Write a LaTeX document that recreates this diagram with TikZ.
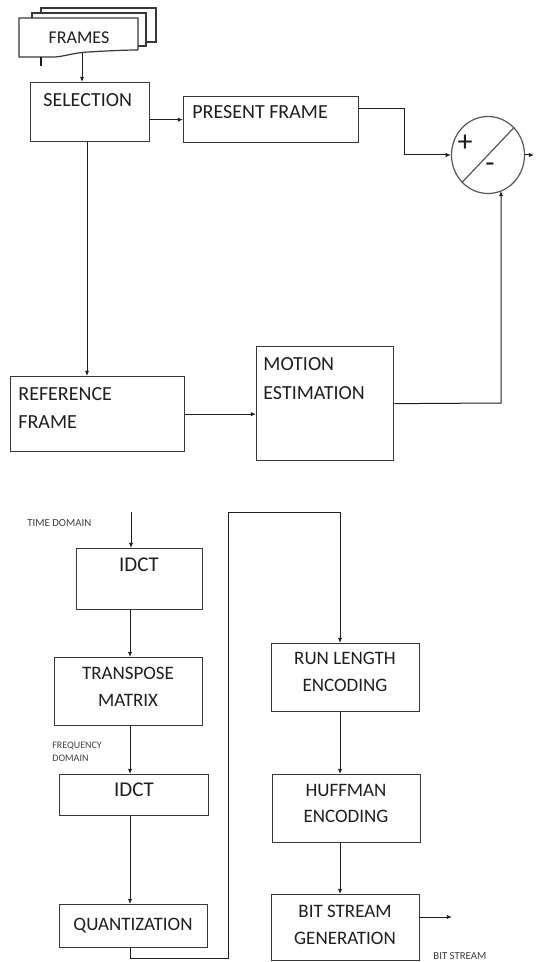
\documentclass[tikz,border=0pt]{standalone}
\usepackage{fontspec}
\setmainfont{Carlito}
\usetikzlibrary{arrows.meta,positioning,shapes.geometric,calc}
\definecolor{dgInk}{RGB}{30,30,30}
\definecolor{dgLine}{RGB}{55,55,55}

\begin{document}
\begin{tikzpicture}[x=0.5pt,y=-0.5pt,font=\fontsize{10}{12}\selectfont,
  B/.style 2 args={draw=dgLine,line width=0.65pt,anchor=north west,inner sep=0pt,
            minimum width=#1*0.5pt,minimum height=#2*0.5pt},
  T/.style={text=dgInk,inner sep=0pt,anchor=west,align=left},
  C/.style={text=dgInk,inner sep=0pt,align=center,font=\fontsize{9.5}{13.5}\selectfont},
  S/.style={text=dgInk!85,inner sep=0pt,anchor=west,align=left,font=\fontsize{5.4}{6.5}\selectfont},
  arr/.style={-{Latex[length=2.6pt,width=2.2pt]},line width=0.5pt,draw=dgInk}]
\useasboundingbox (0,0) rectangle (535,962);
\draw[dgLine,line width=0.6pt] (41,13) -- (41,8) -- (156,8) -- (156,42) -- (146,42);
\draw[dgLine,line width=0.6pt] (32,18) -- (32,13) -- (146,13) -- (146,46) -- (138,46);
\draw[dgLine,line width=0.6pt] (138,50) -- (138,18) -- (19,18) -- (19,57) -- (47,57)
  .. controls (62,58) and (70,53) .. (88,52) .. controls (105,51) and (125,50) .. (138,50);
\draw[dgInk,line width=0.8pt] (41,57) -- (41,66);
\node[text=dgInk,inner sep=0pt,font=\fontsize{9}{11}\selectfont] (frames) at (79,38) {FRAMES};
\node[B={119}{59}] (sel) at (30,82) {};
\node[T] (sel-t) at (43,100) {SELECTION};
\node[B={175}{46}] (pres) at (183,96) {};
\node[T] (pres-t) at (192,112) {PRESENT FRAME};
\node[draw=dgLine!85,ellipse,line width=0.6pt,inner sep=0pt,
      minimum width=36.5pt,minimum height=38.5pt] (sum) at (488,155) {};
\draw[dgLine!85,line width=0.6pt] (sum.south west) -- (sum.north east);
\node[text=dgInk,inner sep=0pt,font=\fontsize{15}{15}\selectfont] (plus) at (465,143) {+};
\node[text=dgInk,inner sep=0pt,font=\fontsize{15}{15}\selectfont] (minus) at (490,168) {-};
\node[B={174}{75}] (ref) at (10,376) {};
\node[T,font=\fontsize{10}{14.25}\selectfont] (ref-t) at (18,408) {REFERENCE\\FRAME};
\node[B={137}{114}] (mot) at (256,346) {};
\node[T,font=\fontsize{10}{14.5}\selectfont] (mot-t) at (263,378.5) {MOTION\\ESTIMATION};
\coordinate (fr-out) at (82,53);
\coordinate (sd) at (87,0);
\coordinate (k1) at (404,109);
\coordinate (k3) at (501,403);
\coordinate (out1) at (534,155);
\draw[arr] (fr-out) -- (fr-out |- sel.north);
\draw[arr] (sel.east |- pres.west) -- (pres.west);
\draw[arr] (sel.south -| sd) -- (ref.north -| sd);
\draw[arr] (pres.east |- k1) -- (k1) |- (sum.west);
\draw[arr] (ref.east) -- (mot.west |- ref.east);
\draw[arr] (mot.east) -- (k3) -- ($(sum.center)+(13,36)$);
\draw[arr] (sum.east) -- (out1);

\node[S] (td) at (27,523) {TIME DOMAIN};
\node[B={126}{61}] (idct1) at (76,548) {};
\node[C,font=\fontsize{10.5}{12}\selectfont] (idct1-t) at (139,564.5) {IDCT};
\node[B={148}{68}] (trans) at (54,657) {};
\node[C] (trans-t) at (128,686.5) {TRANSPOSE\\MATRIX};
\node[S,font=\fontsize{5}{6.5}\selectfont] (fd) at (52,751.5) {FREQUENCY\\DOMAIN};
\node[B={149}{41}] (idct2) at (59,774) {};
\node[C,font=\fontsize{10.5}{12}\selectfont] (idct2-t) at (134,789.5) {IDCT};
\node[B={148}{43}] (quant) at (59,904) {};
\node[C] (quant-t) at (133,925.5) {QUANTIZATION};
\node[B={148}{68}] (rle) at (271,643) {};
\node[C,font=\fontsize{9.5}{13.25}\selectfont] (rle-t) at (345,672) {RUN LENGTH\\ENCODING};
\node[B={148}{68}] (huff) at (272,774) {};
\node[C,font=\fontsize{9.5}{13}\selectfont] (huff-t) at (346,803.5) {HUFFMAN\\ENCODING};
\node[B={148}{66}] (bsg) at (271,894) {};
\node[C] (bsg-t) at (345,925) {BIT STREAM\\GENERATION};
\node[S] (bs) at (433,956) {BIT STREAM};
\coordinate (in1) at (131,512);
\coordinate (c1) at (130,0);
\coordinate (c2) at (0,958);
\coordinate (c3) at (228,512);
\coordinate (c4) at (340,0);
\coordinate (out2) at (452,917);
\draw[arr] (in1) -- (in1 |- idct1.north);
\draw[arr] (idct1.south -| c1) -- (trans.north -| c1);
\draw[arr] (trans.south -| c1) -- (idct2.north -| c1);
\draw[arr] (idct2.south -| c1) -- (quant.north -| c1);
\draw[arr] (quant.south -| c1) -- (c1 |- c2) -| (c3) -| (c4 |- rle.north);
\draw[arr] (rle.south -| c4) -- (huff.north -| c4);
\draw[arr] (huff.south -| c4) -- (bsg.north -| c4);
\draw[arr] (bsg.east |- out2) -- (out2);
\end{tikzpicture}
\end{document}
